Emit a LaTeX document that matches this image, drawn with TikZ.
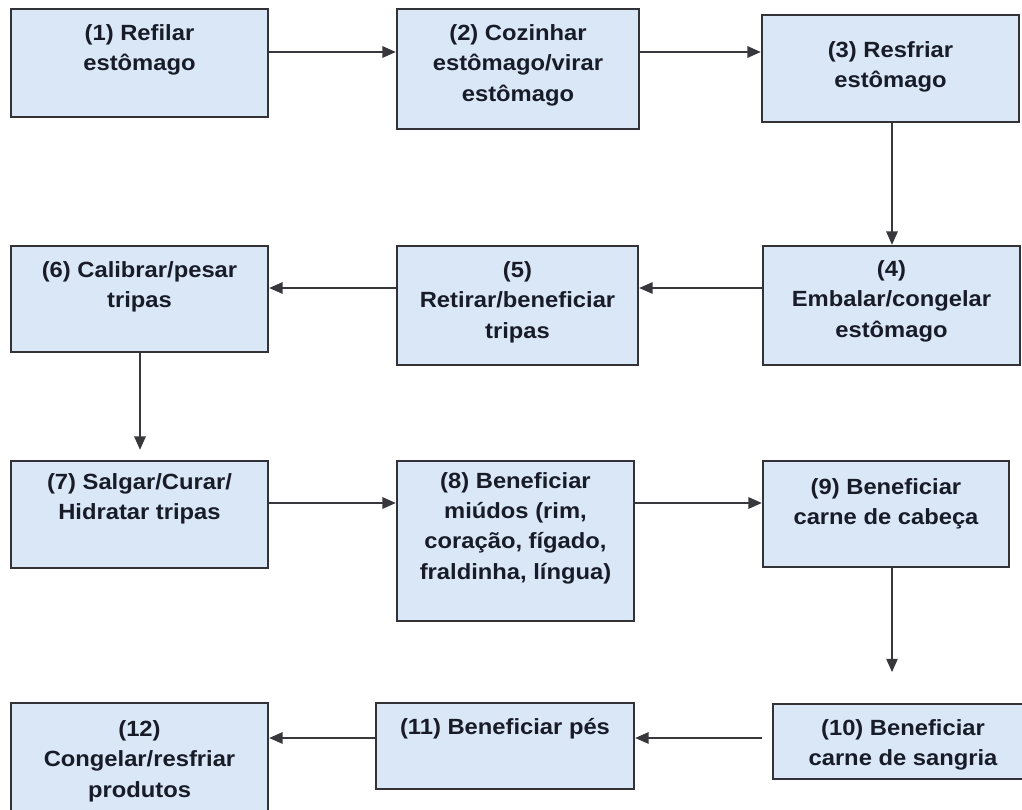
\documentclass[tikz,border=0pt]{standalone}
\usepackage{fontspec}
\setmainfont{Liberation Sans}[FakeStretch=1.08]
\usetikzlibrary{arrows.meta,fit}
\definecolor{boxfill}{RGB}{218,231,246}
\definecolor{boxline}{RGB}{50,50,55}
\definecolor{arrline}{RGB}{55,55,60}
\definecolor{txtcol}{RGB}{24,28,40}
\begin{document}
\begin{tikzpicture}[x=0.75pt,y=-0.75pt,
  stepbox/.style={draw=boxline,line width=1.8pt,fill=boxfill,inner sep=0pt,rectangle},
  txt/.style={align=center,text=txtcol,inner sep=0pt,font=\fontsize{16.5pt}{22.8pt}\selectfont\bfseries},
  arr/.style={draw=arrline,line width=1.3pt,-{Triangle[length=10pt,width=8.5pt]}}]
\useasboundingbox (0,0) rectangle (1022,810);
\clip (0,0) rectangle (1022,810);
% boxes
\node[stepbox,fit={(11,9) (268,117)}] (b1) {};
\node[stepbox,fit={(397,9) (639,129)}] (b2) {};
\node[stepbox,fit={(762,15) (1019,122)}] (b3) {};
\node[stepbox,fit={(763,246) (1020,365)}] (b4) {};
\node[stepbox,fit={(397,246) (638,365)}] (b5) {};
\node[stepbox,fit={(11,246) (268,352)}] (b6) {};
\node[stepbox,fit={(11,461) (268,568)}] (b7) {};
\node[stepbox,fit={(397,461) (634,621)}] (b8) {};
\node[stepbox,fit={(763,461) (1009,567)}] (b9) {};
\node[stepbox,fit={(773,704) (1050,779)}] (b10) {};
\node[stepbox,fit={(376,703) (634,789)}] (b11) {};
\node[stepbox,fit={(11,703) (268,840)}] (b12) {};
% texts
\node[txt] (t1) at (139.5,50) {(1) Refilar\\estômago};
\node[txt] (t2) at (518,65) {(2) Cozinhar\\estômago/virar\\estômago};
\node[txt] (t3) at (890.5,67) {(3) Resfriar\\estômago};
\node[txt] (t4) at (891.5,301) {(4)\\Embalar/congelar\\estômago};
\node[txt] (t5) at (517.5,302) {(5)\\Retirar/beneficiar\\tripas};
\node[txt] (t6) at (139.5,287) {(6) Calibrar/pesar\\tripas};
\node[txt] (t7) at (139.5,499) {(7) Salgar/Curar/\\Hidratar tripas};
\node[txt] (t8) at (515.5,528) {(8) Beneficiar\\miúdos (rim,\\coração, fígado,\\fraldinha, língua)};
\node[txt] (t9) at (886,504) {(9) Beneficiar\\carne de cabeça};
\node[txt] (t10) at (903,745) {(10) Beneficiar\\carne de sangria};
\node[txt] (t11) at (505,729) {(11) Beneficiar pés};
\node[txt] (t12) at (139.5,761) {(12)\\Congelar/resfriar\\produtos};
% connectors
\draw[arr] (b1.east |- 0,52) -- (b2.west |- 0,52);
\draw[arr] (b2.east |- 0,52) -- (b3.west |- 0,52);
\draw[arr] (b3.south -| 892,0) -- (b4.north -| 892,0);
\draw[arr] (b4.west |- 0,288) -- (b5.east |- 0,288);
\draw[arr] (b5.west |- 0,288) -- (b6.east |- 0,288);
\draw[arr,shorten >=7.5pt] (b6.south -| 140,0) -- (b7.north -| 140,0);
\draw[arr] (b7.east |- 0,503) -- (b8.west |- 0,503);
\draw[arr] (b8.east |- 0,503) -- (b9.west |- 0,503);
\draw[arr,shorten >=23pt] (b9.south -| 892,0) -- (b10.north -| 892,0);
\draw[arr,shorten <=7.5pt] (b10.west |- 0,738) -- (b11.east |- 0,738);
\draw[arr] (b11.west |- 0,738) -- (b12.east |- 0,738);
\end{tikzpicture}
\end{document}
